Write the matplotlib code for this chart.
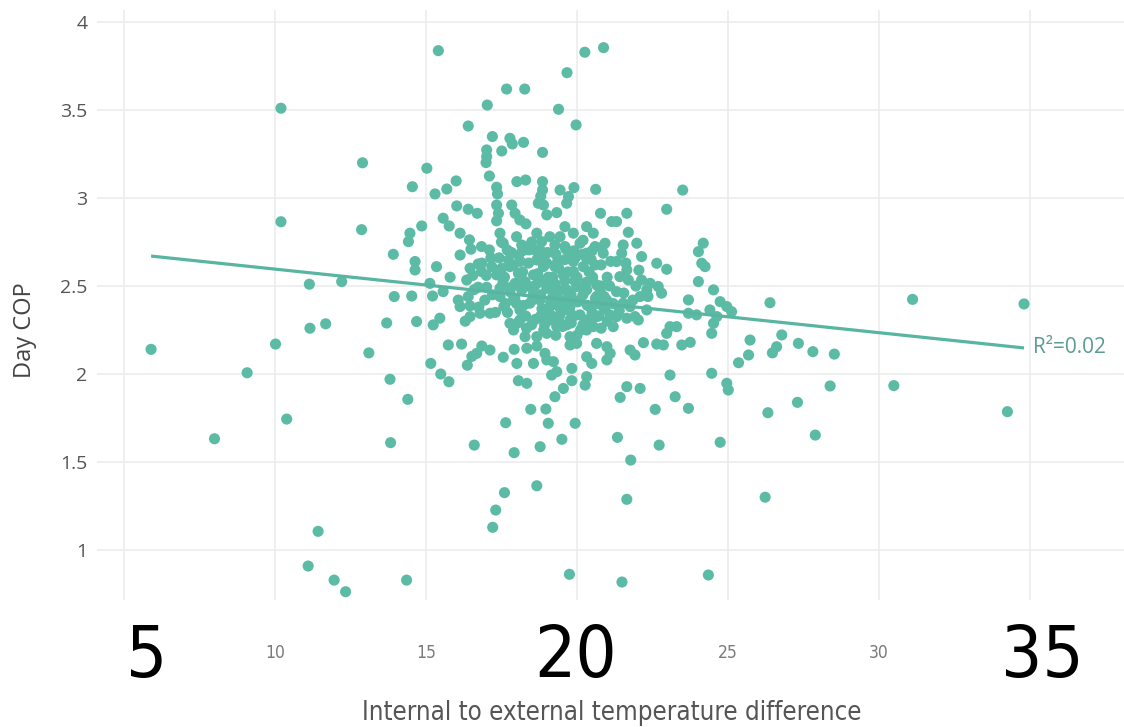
import matplotlib
matplotlib.use('Agg')
import matplotlib.pyplot as plt
import matplotlib.transforms as mtransforms
import numpy as np

# ---- data ----
left_x = [10.20, 12.90, 10.20, 12.87, 13.92, 11.14, 12.21, 13.95, 11.16, 11.68, 13.70, 5.90,
          10.02, 13.11, 9.08, 13.81, 10.39, 8.00, 13.83, 11.43, 11.10, 11.96, 12.34]
left_y = [3.51, 3.20, 2.865, 2.82, 2.68, 2.51, 2.525, 2.44, 2.26, 2.285, 2.29, 2.14,
          2.17, 2.12, 2.007, 1.97, 1.744, 1.632, 1.61, 1.106, 0.909, 0.829, 0.763]

low_x = [14.40, 15.16, 15.49, 15.76, 16.37, 16.52, 16.68, 16.85, 17.12, 15.74, 16.18, 17.56,
         17.92, 18.34, 18.67, 18.01, 18.56, 18.06, 18.34, 18.94, 19.00, 19.22, 19.33, 19.16,
         19.83, 19.83, 19.55, 19.27, 20.32, 20.49, 20.32, 20.27, 19.77, 19.99, 20.65, 20.99,
         21.10, 20.99, 21.76, 21.92, 22.20, 22.64, 22.86, 23.08, 23.47, 23.75, 24.46, 24.96,
         25.01, 25.35, 25.68, 25.73, 21.65, 22.09, 21.43, 23.25, 22.59, 23.69, 18.47, 18.97,
         17.64, 19.05, 19.94, 19.50, 16.60, 17.92, 18.78, 21.34, 22.72, 24.74, 21.78, 18.67,
         17.60, 17.31, 17.21, 21.65, 14.36, 19.75, 21.49, 24.35]
low_y = [1.856, 2.06, 2.00, 1.956, 2.05, 2.10, 2.117, 2.159, 2.136, 2.165, 2.17, 2.095,
         2.14, 2.146, 2.159, 2.06, 2.06, 1.962, 1.947, 2.117, 2.08, 2.07, 2.013, 1.994,
         2.032, 1.962, 1.918, 1.871, 2.098, 2.06, 1.985, 1.937, 2.165, 2.174, 2.174, 2.155,
         2.117, 2.08, 2.136, 2.108, 2.178, 2.17, 2.165, 1.994, 2.165, 2.18, 2.004, 1.947,
         1.909, 2.064, 2.108, 2.193, 1.928, 1.918, 1.867, 1.871, 1.799, 1.805, 1.799, 1.801,
         1.723, 1.72, 1.72, 1.629, 1.596, 1.553, 1.587, 1.64, 1.596, 1.612, 1.511, 1.365,
         1.326, 1.227, 1.129, 1.288, 0.829, 0.862, 0.818, 0.858]

top_x = [15.41, 20.26, 20.88, 19.67, 17.67, 18.27, 17.03, 19.39, 19.97, 16.40, 17.20, 17.78,
         17.86, 18.23, 17.51, 17.01, 17.01, 16.99, 18.86, 15.03, 17.10, 14.55, 15.30, 15.69,
         16.00, 17.34, 17.37, 18.01, 18.30, 18.86, 18.86, 19.44, 19.72, 19.90, 20.62, 23.50,
         18.80, 18.72]
top_y = [3.837, 3.828, 3.854, 3.712, 3.619, 3.619, 3.528, 3.504, 3.415, 3.409, 3.349, 3.339,
         3.307, 3.316, 3.267, 3.273, 3.235, 3.201, 3.259, 3.169, 3.125, 3.064, 3.023, 3.051,
         3.097, 3.061, 3.023, 3.093, 3.102, 3.093, 3.045, 3.045, 3.008, 3.059, 3.049, 3.045,
         3.01, 2.97]

core_x = [16.02, 16.40, 16.70, 17.34, 17.40, 17.34, 17.84, 17.95, 18.11, 18.31, 18.89, 19.00,
          19.33, 19.66, 15.57, 15.77, 14.86, 14.47, 14.42, 16.13, 16.44, 16.49, 16.84, 17.10,
          17.45, 17.56, 17.69, 17.73, 18.00, 18.17, 18.39, 18.06, 18.67, 18.83, 18.61, 18.94,
          19.27, 19.60, 19.71, 19.60, 19.88, 19.44, 20.32, 20.54, 20.60, 20.10, 20.32, 16.13,
          14.64, 14.64, 15.35, 15.80, 16.46, 16.73, 16.84, 16.35, 17.18, 17.34, 17.51, 17.78,
          18.06, 17.95, 18.28, 18.56, 18.89, 19.27, 19.55, 19.88, 20.21, 20.49, 18.67, 19.00,
          19.88, 20.32, 15.13, 15.22, 15.57, 14.53, 16.07, 16.13, 16.40, 16.46, 16.73, 17.01,
          16.95, 17.45, 17.58, 17.89, 18.11, 18.44, 18.78, 19.11, 19.44, 19.77, 20.10, 20.43,
          20.65, 17.45, 17.78, 18.17, 18.56, 19.00, 19.33, 19.66, 19.99, 20.32, 20.65, 14.69,
          15.24, 15.46, 16.46, 16.79, 17.12, 17.78, 18.11, 18.78, 19.11, 19.44, 19.77, 20.10,
          20.43, 20.65, 19.33, 19.66, 19.00, 19.77, 20.32, 20.54, 18.28, 18.67]
core_y = [2.955, 2.936, 2.913, 2.96, 2.913, 2.87, 2.96, 2.913, 2.875, 2.853, 2.96, 2.904,
          2.917, 2.97, 2.885, 2.841, 2.841, 2.80, 2.752, 2.80, 2.762, 2.709, 2.724, 2.705,
          2.80, 2.743, 2.705, 2.648, 2.78, 2.733, 2.705, 2.676, 2.80, 2.752, 2.705, 2.676,
          2.733, 2.724, 2.657, 2.837, 2.80, 2.78, 2.837, 2.80, 2.724, 2.743, 2.686, 2.676,
          2.639, 2.591, 2.61, 2.55, 2.601, 2.625, 2.582, 2.534, 2.61, 2.563, 2.601, 2.61,
          2.572, 2.515, 2.525, 2.563, 2.61, 2.61, 2.563, 2.582, 2.61, 2.544, 2.648, 2.629,
          2.639, 2.657, 2.515, 2.443, 2.468, 2.443, 2.42, 2.383, 2.44, 2.387, 2.493, 2.493,
          2.42, 2.44, 2.383, 2.42, 2.364, 2.402, 2.42, 2.383, 2.42, 2.383, 2.42, 2.383,
          2.44, 2.487, 2.468, 2.478, 2.459, 2.487, 2.459, 2.478, 2.497, 2.478, 2.506, 2.298,
          2.279, 2.317, 2.326, 2.345, 2.345, 2.288, 2.307, 2.326, 2.307, 2.336, 2.307, 2.336,
          2.307, 2.326, 2.269, 2.279, 2.231, 2.212, 2.25, 2.269, 2.212, 2.212]

dense_x = [17.60, 17.90, 18.20, 18.40, 18.70, 18.90, 19.20, 19.40, 19.60, 19.80, 20.00, 20.20,
           20.40, 20.60, 20.80, 21.00, 17.70, 18.00, 18.30, 18.50, 18.80, 19.00, 19.20, 19.50,
           19.70, 19.90, 20.20, 20.50, 20.80, 21.00, 18.20, 18.50, 18.80, 19.10, 19.30, 19.60,
           19.90, 20.20, 20.50, 20.80, 17.50, 17.20, 17.00, 16.60, 16.30, 21.20, 21.40, 20.90,
           19.30, 18.90, 20.00, 17.90, 18.60, 19.10, 19.40, 20.30, 18.10, 19.70, 20.70, 17.30]
dense_y = [2.55, 2.62, 2.58, 2.63, 2.57, 2.53, 2.55, 2.60, 2.53, 2.45, 2.55, 2.45,
           2.58, 2.62, 2.50, 2.55, 2.35, 2.40, 2.33, 2.28, 2.45, 2.35, 2.44, 2.38,
           2.43, 2.33, 2.28, 2.35, 2.26, 2.30, 2.70, 2.75, 2.70, 2.78, 2.68, 2.65,
           2.70, 2.76, 2.70, 2.62, 2.75, 2.45, 2.56, 2.48, 2.30, 2.40, 2.36, 2.44,
           2.22, 2.25, 2.22, 2.25, 2.50, 2.49, 2.30, 2.52, 2.50, 2.58, 2.40, 2.35]

dense2_x = [17.42, 17.83, 18.12, 18.46, 18.74, 19.03, 19.36, 19.63, 19.94, 20.18, 20.47, 20.83,
            21.12, 17.55, 17.81, 18.14, 18.37, 18.72, 19.05, 19.28, 19.57, 19.92, 20.24, 20.52,
            20.77, 21.08, 17.63, 17.94, 18.23, 18.52, 18.84, 19.13, 19.42, 19.74, 20.03, 20.34,
            20.61, 20.93, 18.04, 18.33, 18.62, 18.93, 19.17, 19.52, 19.81, 20.12, 20.38, 20.72,
            21.55, 21.85, 22.05, 21.62, 21.95, 22.35, 16.85, 16.55, 17.15, 16.75]
dense2_y = [2.66, 2.69, 2.64, 2.71, 2.67, 2.69, 2.64, 2.71, 2.66, 2.68, 2.65, 2.72,
            2.64, 2.52, 2.49, 2.54, 2.50, 2.52, 2.55, 2.51, 2.48, 2.53, 2.50, 2.55,
            2.47, 2.50, 2.40, 2.43, 2.39, 2.42, 2.37, 2.41, 2.38, 2.36, 2.41, 2.39,
            2.43, 2.37, 2.29, 2.26, 2.31, 2.28, 2.33, 2.27, 2.29, 2.25, 2.31, 2.33,
            2.46, 2.42, 2.59, 2.63, 2.50, 2.44, 2.63, 2.56, 2.66, 2.38]

midright_x = [20.78, 21.65, 21.31, 21.15, 22.97, 21.70, 21.98, 21.53, 21.48, 21.31, 20.93, 20.87,
              22.14, 22.64, 22.97, 21.65, 21.42, 21.70, 22.14, 22.42, 22.69, 22.80, 22.31, 22.09,
              21.31, 20.98, 21.53, 21.76, 20.87, 21.09, 21.31, 21.65, 21.92, 22.03, 21.20, 22.31,
              23.08, 23.30, 22.97, 23.69, 24.02, 24.18, 24.02, 24.13, 24.24, 24.52, 24.74, 24.96,
              25.12, 24.40, 24.63, 24.52, 24.46, 23.69, 23.96]
midright_y = [2.913, 2.913, 2.866, 2.866, 2.936, 2.805, 2.743, 2.733, 2.686, 2.639, 2.743, 2.686,
              2.667, 2.629, 2.595, 2.591, 2.553, 2.534, 2.534, 2.515, 2.497, 2.459, 2.478, 2.44,
              2.468, 2.421, 2.402, 2.383, 2.383, 2.336, 2.326, 2.317, 2.326, 2.307, 2.269, 2.364,
              2.269, 2.269, 2.231, 2.421, 2.525, 2.743, 2.695, 2.629, 2.61, 2.478, 2.411, 2.383,
              2.354, 2.364, 2.326, 2.288, 2.231, 2.345, 2.336]

right_x = [26.39, 26.78, 26.61, 26.47, 27.33, 27.81, 28.52, 28.38, 27.30, 26.32, 27.89, 30.49,
           34.25, 26.23, 31.11, 34.80]
right_y = [2.405, 2.222, 2.155, 2.12, 2.174, 2.127, 2.113, 1.932, 1.839, 1.78, 1.653, 1.934,
           1.786, 1.30, 2.424, 2.398]

trend_x = [5.9, 34.8]
trend_y = [2.67, 2.148]
r2_label = "R²=0.02"

x_ticks = [5, 10, 15, 20, 25, 30, 35]
x_tick_labels = ["", "10", "15", "", "25", "30", ""]
y_ticks = [1, 1.5, 2, 2.5, 3, 3.5, 4]
y_tick_labels = ["1", "1.5", "2", "2.5", "3", "3.5", "4"]
big_labels = ["5", "20", "35"]
big_label_x = [5.75, 19.95, 35.4]

x_all = np.array(left_x + low_x + top_x + core_x + dense_x + dense2_x + midright_x + right_x)
y_all = np.array(left_y + low_y + top_y + core_y + dense_y + dense2_y + midright_y + right_y)

# ---- drawing ----
W, H = 1124, 727
fig = plt.figure(figsize=(W / 100, H / 100), dpi=100)
ax = fig.add_axes([97 / W, 1 - 600 / H, 1 - 97 / W, (600 - 10) / H])
ax.set_xlim(4.11, 38.11)
ax.set_ylim(0.716, 4.068)
for s in ax.spines.values():
    s.set_visible(False)

teal = '#5cbba5'
ax.scatter(x_all, y_all, s=64, color=teal, edgecolors='none', zorder=3)
ax.plot(trend_x, trend_y, color='#58b5a1', linewidth=2.3, zorder=4, solid_capstyle='butt')
ax.text(trend_x[-1] + 0.3, trend_y[-1], r2_label, color='#5a9c90', fontsize=15,
        family=['Open Sans', 'DejaVu Sans'], ha='left', va='center', zorder=5)

narrow = dict(family=['DejaVu Sans'], fontstretch='condensed')

ax.set_xticks(x_ticks)
ax.set_xticklabels(x_tick_labels, fontsize=12.5, color='#7a7a7a', **narrow)
ax.set_yticks(y_ticks)
ax.set_yticklabels(y_tick_labels, family=['Open Sans', 'DejaVu Sans'],
                   fontsize=14, color='#555555')
ax.tick_params(axis='both', length=0)
ax.tick_params(axis='y', pad=7)
ax.tick_params(axis='x', pad=32)
ax.grid(True, color='#ebebeb', linewidth=1.1)
ax.set_axisbelow(True)

trans = mtransforms.blended_transform_factory(ax.transData, fig.transFigure)
for lab, xv in zip(big_labels, big_label_x):
    ax.text(xv, 1 - 657 / H, lab, transform=trans, fontsize=52, color='black',
            ha='center', va='center', clip_on=False, **narrow)

fig.text(25 / W, 1 - 330 / H, 'Day COP', rotation=90, ha='center', va='center',
         fontsize=17, color='#444444', family=['Open Sans', 'DejaVu Sans'])
fig.text(612 / W, 1 - 713 / H, 'Internal to external temperature difference',
         ha='center', va='center', fontsize=18.5, color='#555555', **narrow)

fig.savefig('out.png', dpi=100)
